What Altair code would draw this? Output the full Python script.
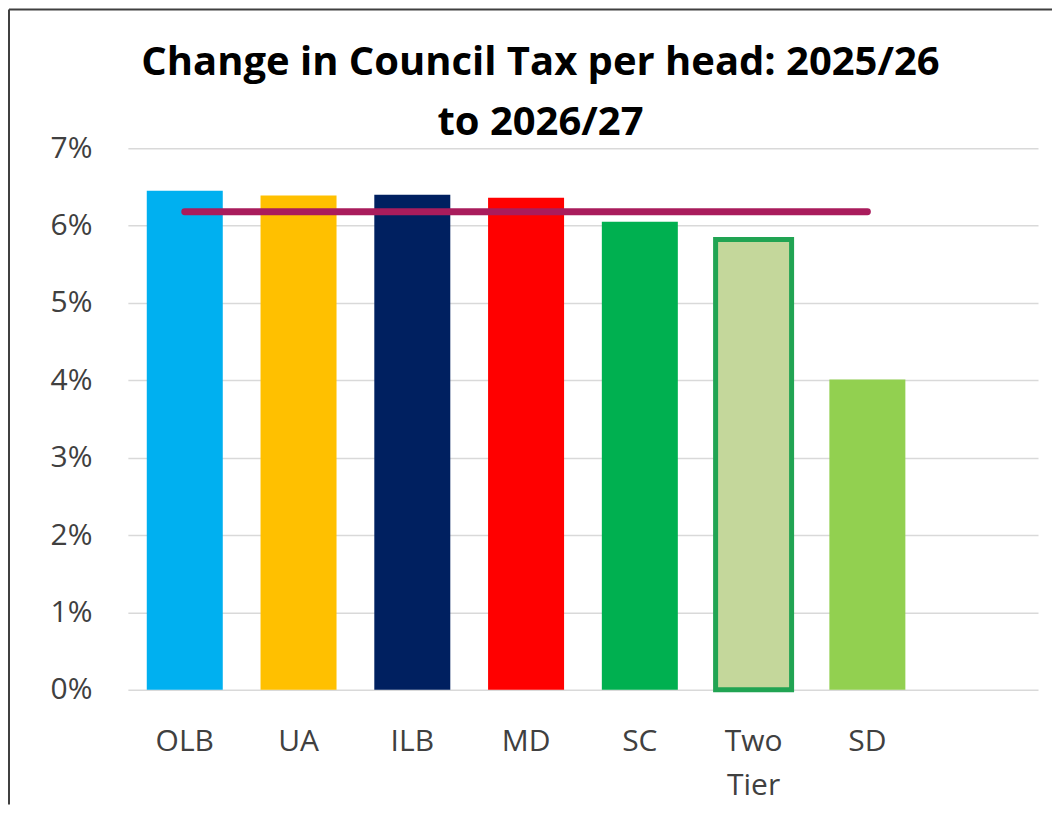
import altair as alt
import pandas as pd

categories = ["OLB", "UA", "ILB", "MD", "SC", "Two Tier", "SD"]
values = [6.45, 6.39, 6.40, 6.36, 6.05, 5.82, 4.01]
average_value = 6.18
slots = categories + [""]
bar_colors = ["#00B0F0", "#FFC000", "#002060", "#FF0000", "#00B050", "#C4D79B", "#92D050"]
y_ticks = [0, 1, 2, 3, 4, 5, 6, 7]
title_lines = ["Change in Council Tax per head: 2025/26", "to 2026/27"]

FONT = "Open Sans"

bars_df = pd.DataFrame({"category": categories, "value": values})
avg_df = pd.DataFrame({"category": categories, "value": [average_value] * len(categories)})
one = pd.DataFrame({"k": [0]})
title_df = pd.DataFrame({"t": ["\n".join(title_lines)]})

x_enc = alt.X(
    "category:N",
    sort=slots,
    scale=alt.Scale(domain=slots, paddingInner=0.332, paddingOuter=0.166),
    axis=alt.Axis(
        title=None,
        labelAngle=0,
        domain=False,
        ticks=False,
        tickSize=0,
        grid=False,
        labelPadding=37,
        labelFont=FONT,
        labelFontSize=30,
        labelColor="#404040",
        labelLineHeight=44,
        labelExpr="datum.label == 'Two Tier' ? ['Two', 'Tier'] : datum.label",
    ),
)
y_enc = alt.Y(
    "value:Q",
    scale=alt.Scale(domain=[0, 7], nice=False),
    axis=alt.Axis(
        title=None,
        values=y_ticks,
        labelExpr="datum.value + '%'",
        domain=False,
        ticks=False,
        tickSize=0,
        labelPadding=36,
        labelFont=FONT,
        labelFontSize=30,
        labelColor="#404040",
        gridColor="#D9D9D9",
        gridWidth=1.5,
    ),
)

bars = alt.Chart(bars_df).mark_bar().encode(
    x=x_enc,
    y=y_enc,
    fill=alt.Fill("category:N", scale=alt.Scale(domain=categories, range=bar_colors), legend=None),
    stroke=alt.condition(alt.datum.category == "Two Tier", alt.value("#21A453"), alt.value(None)),
    strokeWidth=alt.condition(alt.datum.category == "Two Tier", alt.value(5), alt.value(0)),
)

avg_line = alt.Chart(avg_df).mark_line(color="#A91C5C", strokeWidth=7, strokeCap="round").encode(
    x=alt.X("category:N", sort=slots),
    y=alt.Y("value:Q"),
)

title = alt.Chart(title_df).mark_text(
    font=FONT, fontSize=40, fontWeight="bold", color="#000000",
    lineBreak="\n", lineHeight=60, align="center", baseline="alphabetic",
).encode(text="t:N", x=alt.value(413), y=alt.value(-73))

frame_top = alt.Chart(one).mark_rule(color="#404040", strokeWidth=2).encode(
    x=alt.value(-119), x2=alt.value(925), y=alt.value(-139)
)
frame_left = alt.Chart(one).mark_rule(color="#404040", strokeWidth=2).encode(
    x=alt.value(-119), y=alt.value(-139), y2=alt.value(657)
)

chart = alt.layer(bars, avg_line, title, frame_top, frame_left).properties(
    width=911, height=542, padding=0, background="white"
).configure_view(stroke=None)

chart.save("out.html", embed_options={"renderer": "svg", "actions": False})
